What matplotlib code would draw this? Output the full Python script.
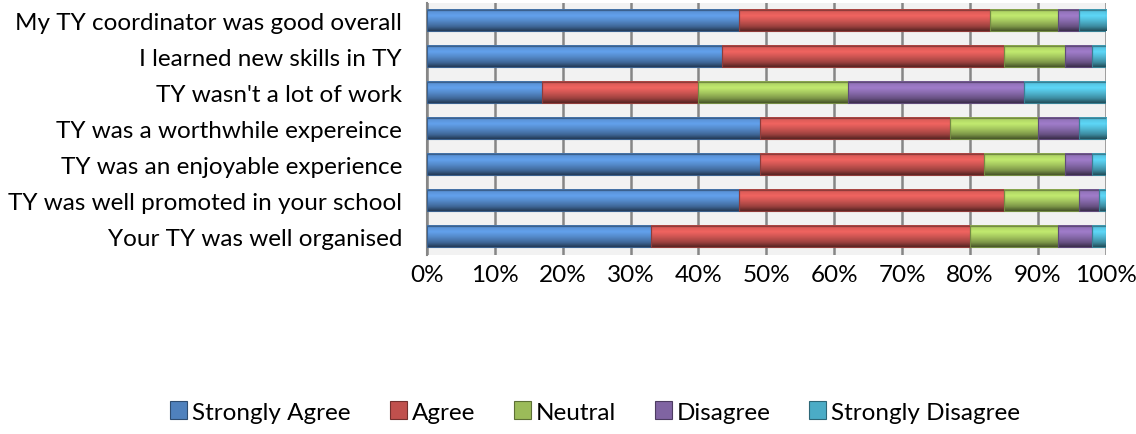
import numpy as np
import matplotlib.pyplot as plt
from matplotlib.colors import LinearSegmentedColormap, to_rgb
from matplotlib.patches import Patch

# Survey statements, bottom to top as drawn
statements = [
    "Your TY was well organised",
    "TY was well promoted in your school",
    "TY was an enjoyable experience",
    "TY was a worthwhile expereince",
    "TY wasn't a lot of work",
    "I learned new skills in TY",
    "My TY coordinator was good overall",
]

responses = ["Strongly Agree", "Agree", "Neutral", "Disagree", "Strongly Disagree"]

# Share of answers (%) per statement, same order as statements
strongly_agree = [33, 46, 49, 49, 17, 43.5, 46]
agree = [47, 39, 33, 28, 23, 41.5, 37]
neutral = [13, 11, 12, 13, 22, 9, 10]
disagree = [5, 3, 4, 6, 26, 4, 3]
strongly_disagree = [2, 1, 2, 4, 12, 2, 4]

colors = ["#4F81BD", "#C0504D", "#9BBB59", "#8064A2", "#4BACC6"]

plt.rcParams['font.family'] = ['Lato', 'DejaVu Sans']

fig = plt.figure(figsize=(11.36, 4.35), dpi=100)
ax = fig.add_axes([0.3759, 0.4126, 0.5974, 0.5789])
ax.set_facecolor("#F2F2F2")


def shade(c, f):
    # scale the colour, clipped to valid range
    return tuple(min(1.0, v * f) for v in to_rgb(c))


def bar_cmap(c):
    # top edge, light band, body, dark bottom
    stops = [(0.0, shade(c, 0.85)), (0.12, shade(c, 1.15)), (0.3, shade(c, 1.25)),
             (0.55, shade(c, 1.05)), (0.8, shade(c, 0.8)), (1.0, shade(c, 0.45))]
    return LinearSegmentedColormap.from_list("g", stops)


series = [strongly_agree, agree, neutral, disagree, strongly_disagree]
y = np.arange(len(statements))
h = 0.59
grad = np.linspace(0, 1, 64).reshape(-1, 1)

left = np.zeros(len(statements))
for vals, c in zip(series, colors):
    vals = np.array(vals, dtype=float)
    cmap = bar_cmap(c)
    for yi, l, w in zip(y, left, vals):
        ax.imshow(grad, cmap=cmap, aspect='auto', interpolation='bilinear',
                  extent=(l, l + w, yi - h / 2, yi + h / 2), zorder=3)
        ax.add_patch(plt.Rectangle((l, yi - h / 2), w, h, fill=False,
                                   edgecolor=shade(c, 0.75), lw=0.8, zorder=4))
    left += vals

ax.set_xlim(0, 100)
ax.set_ylim(-0.5, len(statements) - 0.5)
ax.set_xticks(np.arange(0, 101, 10))
ax.set_xticklabels([f"{v}%" for v in range(0, 101, 10)], fontsize=17.5)
ax.set_yticks(y)
ax.set_yticklabels(statements, fontsize=17.5)
ax.tick_params(axis='x', length=0, pad=7)
ax.tick_params(axis='y', length=0, pad=18)
ax.grid(axis='x', color="#868686", lw=1.8, zorder=1)
ax.set_axisbelow(True)
for s in ["top", "right", "bottom"]:
    ax.spines[s].set_visible(False)
ax.spines["left"].set_color("#868686")
ax.spines["left"].set_linewidth(1.5)

handles = [Patch(facecolor=c, edgecolor=shade(c, 0.6), lw=0.8) for c in colors]
fig.legend(handles, responses, loc='center', bbox_to_anchor=(0.524, 1 - 413 / 435),
           ncol=5, frameon=False, fontsize=17.5, handlelength=0.7, handleheight=0.7,
           handletextpad=0.2, columnspacing=1.6)

fig.savefig("out.png", dpi=100)
